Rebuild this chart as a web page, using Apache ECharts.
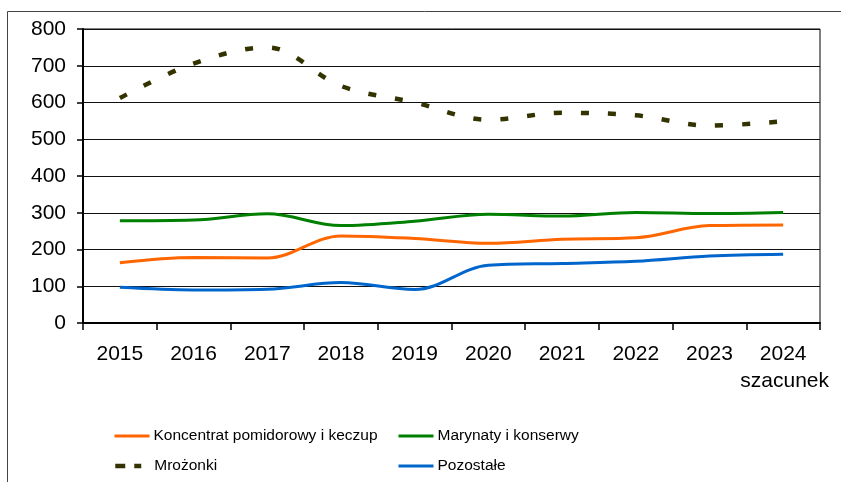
<!DOCTYPE html>
<html>
<head>
<meta charset="utf-8">
<script src="https://cdn.jsdelivr.net/npm/echarts@6/dist/echarts.min.js"></script>
<style>
  html, body { margin: 0; padding: 0; background: #fff; }
  #main { width: 841px; height: 482px; }
</style>
</head>
<body>
<div id="main"></div>
<script>
// lata i wartości
var years = ['2015', '2016', '2017', '2018', '2019', '2020', '2021', '2022', '2023', '2024'];
var koncentrat = [164, 178, 177, 237, 230, 217, 228, 232, 265, 267];
var marynaty = [278, 280, 297, 265, 277, 296, 291, 301, 298, 301];
var mrozonki = [612, 706, 750, 645, 600, 553, 572, 565, 537, 549];
var pozostale = [97, 90, 92, 110, 91, 157, 162, 168, 182, 187];

var chart = echarts.init(document.getElementById('main'), null, { renderer: 'canvas' });

var axisFont = 'Liberation Sans, Arial, sans-serif';

function legendAt(name, left, top, lineStyle) {
  return {
    data: [name],
    left: left,
    top: top,
    padding: 0,
    orient: 'horizontal',
    itemWidth: 35,
    itemHeight: 14,
    itemGap: 0,
    selectedMode: false,
    itemStyle: { opacity: 0 },
    lineStyle: lineStyle,
    textStyle: { fontFamily: axisFont, fontSize: 15.5, color: '#000', padding: [0, 0, 0, -1] }
  };
}

var option = {
  backgroundColor: '#fff',
  animation: false,
  grid: {
    left: 83,
    top: 29,
    right: 21,
    bottom: 159,
    show: true,
    borderColor: '#000',
    borderWidth: 1
  },
  legend: [
    legendAt('Koncentrat pomidorowy i keczup', 113, 428, { width: 3 }),
    legendAt('Marynaty i konserwy', 397, 428, { width: 3 }),
    legendAt('Mrożonki', 113, 458, { width: 4.5, type: [10, 9, 7, 20] }),
    legendAt('Pozostałe', 397, 458, { width: 3 })
  ],
  xAxis: {
    type: 'category',
    data: years,
    boundaryGap: true,
    axisLine: { lineStyle: { color: '#000', width: 2 } },
    axisTick: { show: true, length: 7, lineStyle: { color: '#000', width: 1.5 } },
    axisLabel: { color: '#000', fontSize: 21, fontFamily: axisFont, margin: 21 },
    splitLine: { show: false }
  },
  yAxis: {
    type: 'value',
    min: 0,
    max: 800,
    interval: 100,
    axisLine: { show: true, lineStyle: { color: '#000', width: 2 } },
    axisTick: { show: true, length: 6, lineStyle: { color: '#000', width: 1.5 } },
    axisLabel: { color: '#000', fontSize: 21, fontFamily: axisFont, margin: 17 },
    splitLine: { show: true, lineStyle: { color: '#111', width: 1.2 } }
  },
  graphic: [
    {
      type: 'rect',
      shape: { x: 7.5, y: 11.5, width: 900, height: 600 },
      style: { fill: null, stroke: '#444', lineWidth: 1 },
      silent: true
    },
    {
      type: 'text',
      right: 12,
      top: 371,
      style: { text: 'szacunek', fill: '#000', font: '21px ' + axisFont }
    }
  ],
  series: [
    {
      name: 'Koncentrat pomidorowy i keczup',
      type: 'line',
      data: koncentrat,
      smooth: 0.35,
      symbol: 'none',
      lineStyle: { color: '#FF6600', width: 3 },
      itemStyle: { color: '#FF6600' }
    },
    {
      name: 'Marynaty i konserwy',
      type: 'line',
      data: marynaty,
      smooth: 0.35,
      symbol: 'none',
      lineStyle: { color: '#008000', width: 3 },
      itemStyle: { color: '#008000' }
    },
    {
      name: 'Mrożonki',
      type: 'line',
      data: mrozonki,
      smooth: 0.35,
      symbol: 'none',
      lineStyle: { color: '#333300', width: 4.5, type: [8, 19] },
      itemStyle: { color: '#333300' }
    },
    {
      name: 'Pozostałe',
      type: 'line',
      data: pozostale,
      smooth: 0.35,
      symbol: 'none',
      lineStyle: { color: '#0066CC', width: 3 },
      itemStyle: { color: '#0066CC' }
    }
  ]
};
chart.setOption(option);
</script>
</body>
</html>
